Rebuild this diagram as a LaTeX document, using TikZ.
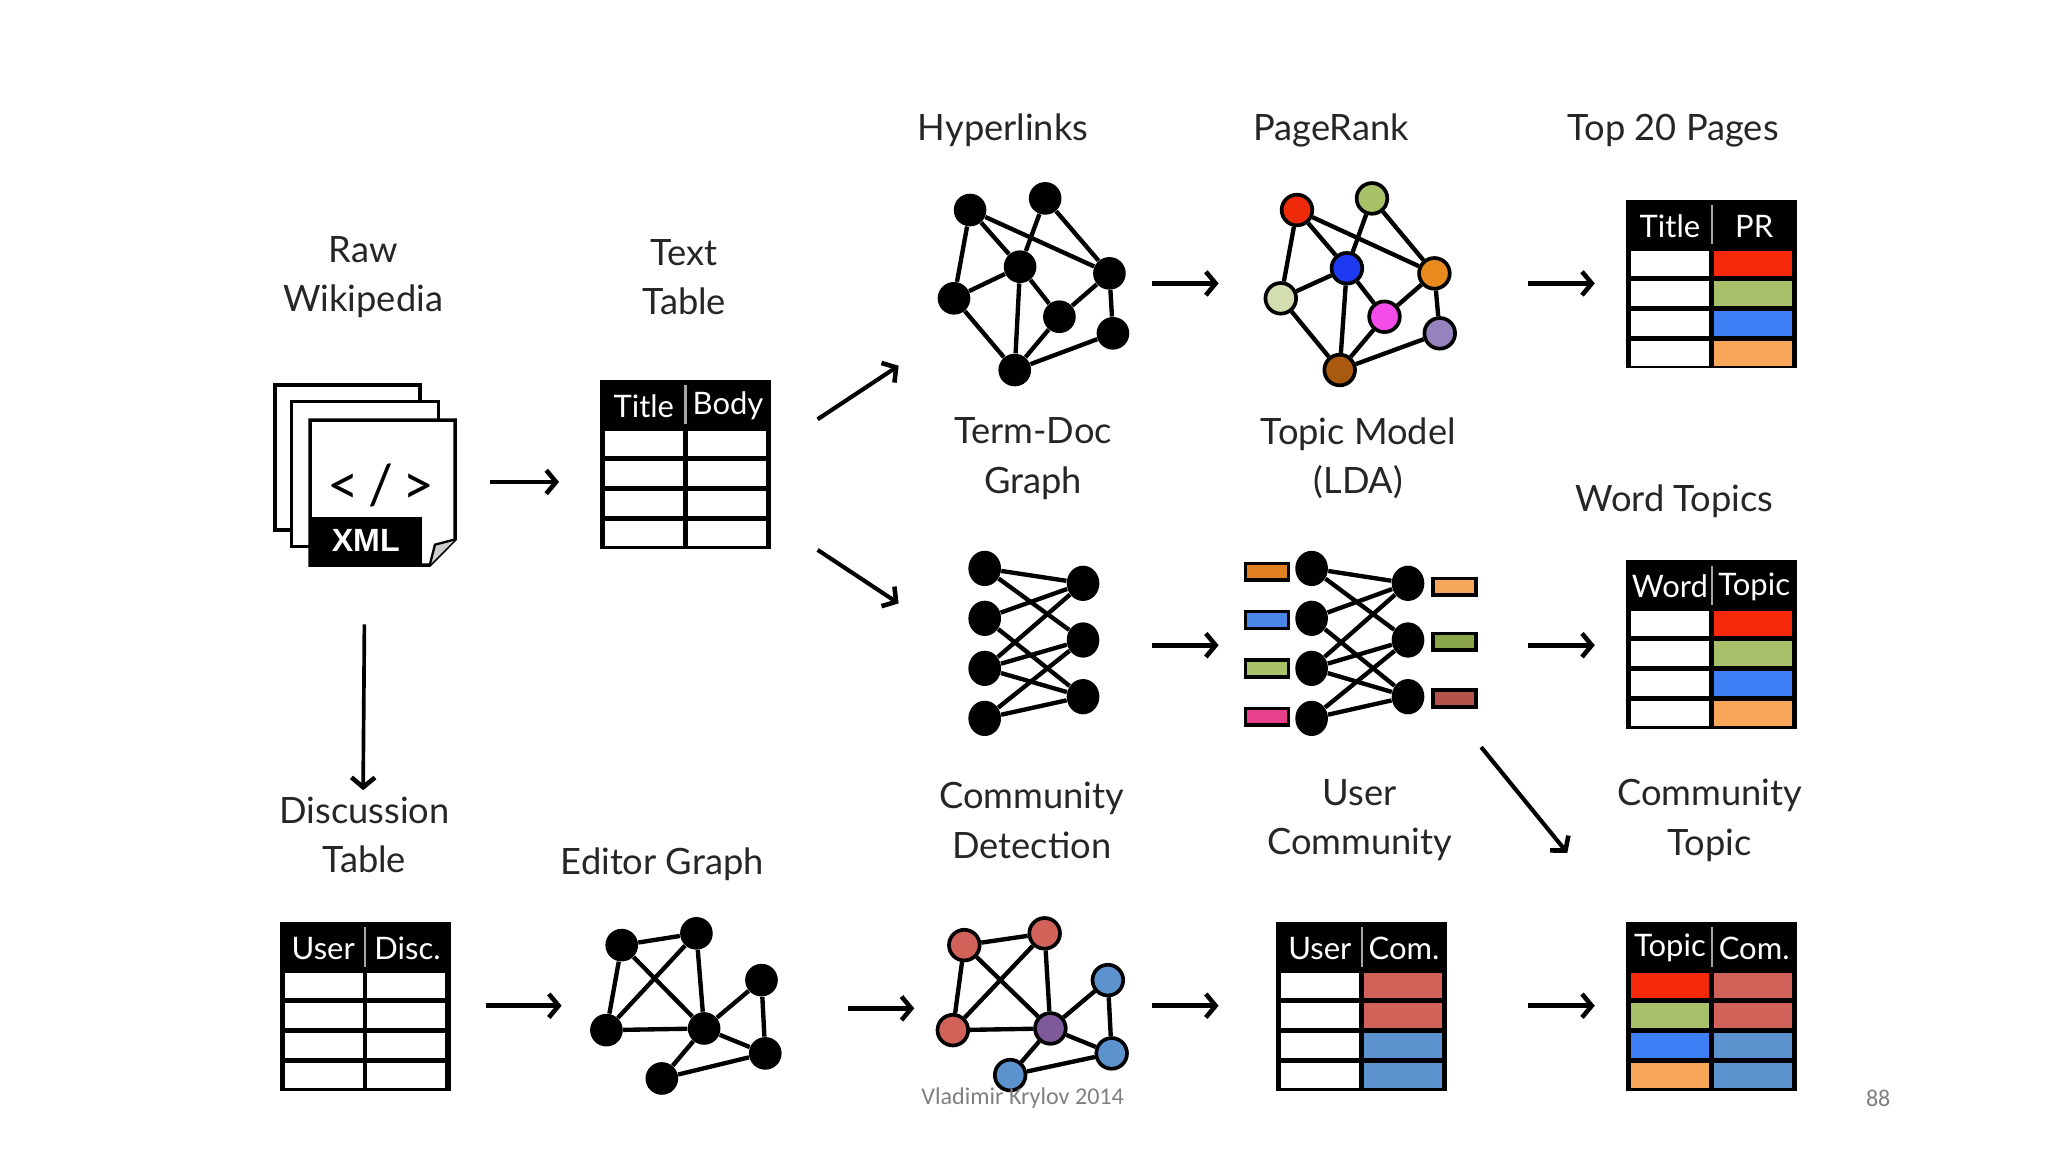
\documentclass[tikz,border=0pt]{standalone}
\usepackage{fontspec}
\setmainfont{Lato}
\newfontfamily\footfont{Carlito}
\newfontfamily\xmlfont{Liberation Sans}
\usetikzlibrary{arrows.meta}
\definecolor{prRed}{HTML}{F52A0A}
\definecolor{prGreen}{HTML}{A8C06A}
\definecolor{prBlue}{HTML}{3F7FF5}
\definecolor{prOrange}{HTML}{F7A65A}
\definecolor{cRed}{HTML}{D0625A}
\definecolor{cBlue}{HTML}{5C93CF}
\definecolor{cPurple}{HTML}{7E5A9B}
\definecolor{nRed}{HTML}{EE2A0A}
\definecolor{nGreen}{HTML}{A9C26A}
\definecolor{nBlue}{HTML}{1D3AF0}
\definecolor{nOrange}{HTML}{E98A1F}
\definecolor{nLGreen}{HTML}{D2DDB0}
\definecolor{nMag}{HTML}{F44CE8}
\definecolor{nPurp}{HTML}{9583BE}
\definecolor{nBrown}{HTML}{A95A10}
\definecolor{rOrange}{HTML}{E08020}
\definecolor{rBlue}{HTML}{4A86E8}
\definecolor{rLGreen}{HTML}{A9C26A}
\definecolor{rPink}{HTML}{E8408A}
\definecolor{rLOrange}{HTML}{F5A65B}
\definecolor{rOlive}{HTML}{8BA64A}
\definecolor{rBrick}{HTML}{B5524A}
\tikzset{
  lab/.style={align=center, font=\fontsize{15.8}{21.5}\selectfont, text=black!85},
  gn/.style={circle, fill=black, inner sep=0pt, minimum size=0.5cm},
  cn/.style={circle, draw=black, line width=1.6pt, fill=#1, inner sep=0pt, minimum size=0.47cm},
  bn/.style={ellipse, fill=black, inner sep=0pt, minimum width=0.5cm, minimum height=0.54cm},
  ed/.style={line width=1.9pt},
  arr/.style={line width=2pt, -{Straight Barb[length=0.15cm,width=0.36cm,line width=2pt]}},
  tabbox/.style={inner sep=0pt, minimum width=2.62cm, minimum height=2.58cm},
  rbox/.style={draw=black, line width=1.6pt, fill=#1},
  thead/.style={text=white, font=\fontsize{13.5}{15}\selectfont},
}
\usetikzlibrary{shapes.geometric}
% table: #1 name, #2 x, #3 y (top-left), #4 h1, #5 h2, #6 list lc/rc
\newcommand\mytab[6]{%
  \node[tabbox] (#1) at ({#2+65.5},{#3+64.5}) {};
  \fill[black] (#2,#3) rectangle ({#2+131},{#3+129});
  \foreach \cl/\cr [count=\i from 0] in {#6}{
    \fill[\cl] ({#2+4},{#3+37+23*\i+1.8}) rectangle ({#2+63.8},{#3+37+23*(\i+1)-1.8});
    \fill[\cr] ({#2+67.2},{#3+37+23*\i+1.8}) rectangle ({#2+127},{#3+37+23*(\i+1)-1.8});
  }
  \draw[gray!70, line width=1pt] ({#2+65.5},{#3+4}) -- ({#2+65.5},{#3+34});
  \node[thead] at ({#2+33.5},{#3+20}) {#4};
  \node[thead] at ({#2+98},{#3+20}) {#5};
}
\begin{document}
\begin{tikzpicture}[x=0.02cm, y=-0.02cm]
\useasboundingbox (0,0) rectangle (1568,882);
\fill[white] (0,0) rectangle (1568,882);

% ---------- labels ----------
\node[lab] (lraw) at (278,212) {Raw\\Wikipedia};
\node[lab] (ltext) at (524,212) {Text\\Table};
\node[lab] (lhyp) at (768,100) {Hyperlinks};
\node[lab] (lpr) at (1019,100) {PageRank};
\node[lab] (ltop) at (1281,100) {Top 20 Pages};
\node[lab] (lterm) at (791,351) {Term-Doc\\Graph};
\node[lab] (llda) at (1040,351) {Topic Model\\(LDA)};
\node[lab] (lword) at (1282,384) {Word Topics};
\node[lab] (ldisc) at (279,639) {Discussion\\Table};
\node[lab] (ledit) at (507,662) {Editor Graph};
\node[lab] (lcomd) at (790,628) {Community\\Detection};
\node[lab] (lusc) at (1041,628) {User\\Community};
\node[lab] (lcomt) at (1309,628) {Community\\Topic};

% ---------- XML documents ----------
\node[inner sep=0pt, minimum width=2.76cm, minimum height=2.76cm] (xml) at (279,364) {};
\draw[line width=1.5pt, fill=white] (210.6,294.8) rectangle (321.6,405.8);
\draw[line width=1.5pt, fill=white] (223.3,307.6) rectangle (335.6,418.6);
\draw[line width=1.5pt, fill=white] (237.4,321.6) -- (348.4,321.6) -- (348.4,413) -- (329,432.6) -- (237.4,432.6) -- cycle;
\fill[black] (237.4,395.6) rectangle (323,432.6);
\draw[line width=1pt, fill=gray!40] (348.4,413) -- (333,417) -- (329,432.6);
\node[font=\fontsize{24}{26}\selectfont] at (292,372) {<\,/\,>};
\node[text=white, font=\xmlfont\bfseries\fontsize{14}{16}\selectfont] at (280,414) {XML};

% ---------- tables ----------
\mytab{ttab}{459.4}{291}{Title}{Body}{white/white,white/white,white/white,white/white}
\mytab{toptab}{1245}{153}{Title}{PR}{white/prRed,white/prGreen,white/prBlue,white/prOrange}
\mytab{wtab}{1245}{429}{Word}{Topic}{white/prRed,white/prGreen,white/prBlue,white/prOrange}
\mytab{dtab}{214}{706}{User}{Disc.}{white/white,white/white,white/white,white/white}
\mytab{utab}{977}{706}{User}{Com.}{white/cRed,white/cRed,white/cBlue,white/cBlue}
\mytab{ctab}{1245}{706}{Topic}{Com.}{prRed/cRed,prGreen/cRed,prBlue/cBlue,prOrange/cBlue}

% ---------- hyperlinks graph ----------
\node[gn] (ha) at (742.7,160.8) {};
\node[gn] (hb) at (800.2,151.9) {};
\node[gn] (hc) at (781.0,204.2) {};
\node[gn] (hd) at (849.4,209.3) {};
\node[gn] (he) at (730.4,228.4) {};
\node[gn] (hf) at (811.1,242.5) {};
\node[gn] (hg) at (852.1,255.2) {};
\node[gn] (hh) at (776.9,283.3) {};
\foreach \u/\v in {ha/he,ha/hc,ha/hd,hb/hc,hb/hd,he/hc,he/hh,hc/hh,hc/hf,hd/hf,hd/hg,hf/hh,hg/hh}
  \draw[ed] (\u) -- (\v);

% ---------- pagerank graph ----------
\node[cn=nRed] (pa) at (993.0,160.8) {};
\node[cn=nGreen] (pb) at (1050.4,151.9) {};
\node[cn=nBlue] (pc) at (1031.2,205.4) {};
\node[cn=nOrange] (pd) at (1098.2,209.3) {};
\node[cn=nLGreen] (pe) at (980.6,228.4) {};
\node[cn=nMag] (pf) at (1060.0,242.5) {};
\node[cn=nPurp] (pg) at (1102.3,255.2) {};
\node[cn=nBrown] (ph) at (1025.7,283.3) {};
\foreach \u/\v in {pa/pe,pa/pc,pa/pd,pb/pc,pb/pd,pe/pc,pe/ph,pc/ph,pc/pf,pd/pf,pd/pg,pf/ph,pg/ph}
  \draw[ed] (\u) -- (\v);

% ---------- bipartite graphs ----------
\foreach \p/\xl/\xr in {b/753.9/829.2, l/1004.2/1078}{
  \node[bn] (\p L1) at (\xl,435.2) {};
  \node[bn] (\p L2) at (\xl,473.4) {};
  \node[bn] (\p L3) at (\xl,511.7) {};
  \node[bn] (\p L4) at (\xl,550.0) {};
  \node[bn] (\p R1) at (\xr,446.6) {};
  \node[bn] (\p R2) at (\xr,490.0) {};
  \node[bn] (\p R3) at (\xr,533.4) {};
  \foreach \u/\v in {L1/R1,L1/R2,L2/R1,L2/R3,L3/R1,L3/R2,L3/R3,L4/R2,L4/R3}
    \draw[ed] (\p\u) -- (\p\v);
}
\draw[rbox=rOrange] (953.6,431.3) rectangle (986.4,444.1);
\draw[rbox=rBlue] (953.6,468.3) rectangle (986.4,481.1);
\draw[rbox=rLGreen] (953.6,505.3) rectangle (986.4,518.1);
\draw[rbox=rPink] (953.6,542.4) rectangle (986.4,555.2);
\draw[rbox=rLOrange] (1097.2,442.8) rectangle (1130,455.6);
\draw[rbox=rOlive] (1097.2,484.9) rectangle (1130,497.7);
\draw[rbox=rBrick] (1097.2,528.3) rectangle (1130,541.1);

% ---------- editor graph ----------
\node[gn] (e1) at (476.0,723.6) {};
\node[gn] (e2) at (533.2,714.6) {};
\node[gn] (e3) at (464.3,788.7) {};
\node[gn] (e4) at (539.1,787.4) {};
\node[gn] (e5) at (583.0,750.4) {};
\node[gn] (e6) at (585.9,806.5) {};
\node[gn] (e7) at (506.7,825.7) {};
\foreach \u/\v in {e1/e2,e1/e3,e1/e4,e2/e3,e2/e4,e3/e4,e4/e5,e4/e6,e4/e7,e5/e6,e7/e6}
  \draw[ed] (\u) -- (\v);

% ---------- community graph ----------
\node[cn=cRed] (c1) at (738.3,723.6) {};
\node[cn=cRed] (c2) at (799.8,714.6) {};
\node[cn=cRed] (c3) at (729.5,788.7) {};
\node[cn=cPurple] (c4) at (804.2,787.4) {};
\node[cn=cBlue] (c5) at (848.2,750.4) {};
\node[cn=cBlue] (c6) at (851.1,806.5) {};
\node[cn=cBlue] (c7) at (773.4,823.1) {};
\foreach \u/\v in {c1/c2,c1/c3,c1/c4,c2/c3,c2/c4,c3/c4,c4/c5,c4/c6,c4/c7,c5/c6,c7/c6}
  \draw[ed] (\u) -- (\v);

% ---------- arrows ----------
\coordinate (a1s) at (375,369); \coordinate (a1e) at (428,369);
\draw[arr] (a1s) -- (a1e);
\coordinate (a2s) at (626,321); \coordinate (a2e) at (688,280);
\draw[arr, line width=1.8pt] (a2s) -- (a2e);
\coordinate (a3s) at (626,421); \coordinate (a3e) at (688,462);
\draw[arr, line width=1.8pt] (a3s) -- (a3e);
\coordinate (a4s) at (279,478); \coordinate (a4e) at (278,605);
\draw[arr, line width=1.6pt] (a4s) -- (a4e);
\coordinate (a5s) at (882,217); \coordinate (a5e) at (933,217);
\draw[arr] (a5s) -- (a5e);
\coordinate (a6s) at (1170,217); \coordinate (a6e) at (1221,217);
\draw[arr] (a6s) -- (a6e);
\coordinate (a7s) at (882,494); \coordinate (a7e) at (933,494);
\draw[arr] (a7s) -- (a7e);
\coordinate (a8s) at (1170,494); \coordinate (a8e) at (1221,494);
\draw[arr] (a8s) -- (a8e);
\coordinate (a9s) at (1134,572); \coordinate (a9e) at (1200,653);
\draw[arr, line width=1.8pt] (a9s) -- (a9e);
\coordinate (b1s) at (372,770); \coordinate (b1e) at (430,770);
\draw[arr] (b1s) -- (b1e);
\coordinate (b2s) at (649,772); \coordinate (b2e) at (700,772);
\draw[arr] (b2s) -- (b2e);
\coordinate (b3s) at (882,770); \coordinate (b3e) at (933,770);
\draw[arr] (b3s) -- (b3e);
\coordinate (b4s) at (1170,770); \coordinate (b4e) at (1221,770);
\draw[arr] (b4s) -- (b4e);

% ---------- footer ----------
\node[text=gray, font=\footfont\fontsize{10.5}{12}\selectfont] (foot) at (783,841) {Vladimir Krylov 2014};
\node[text=gray, font=\footfont\fontsize{10.5}{12}\selectfont] (pnum) at (1438,841) {88};
\end{tikzpicture}
\end{document}
